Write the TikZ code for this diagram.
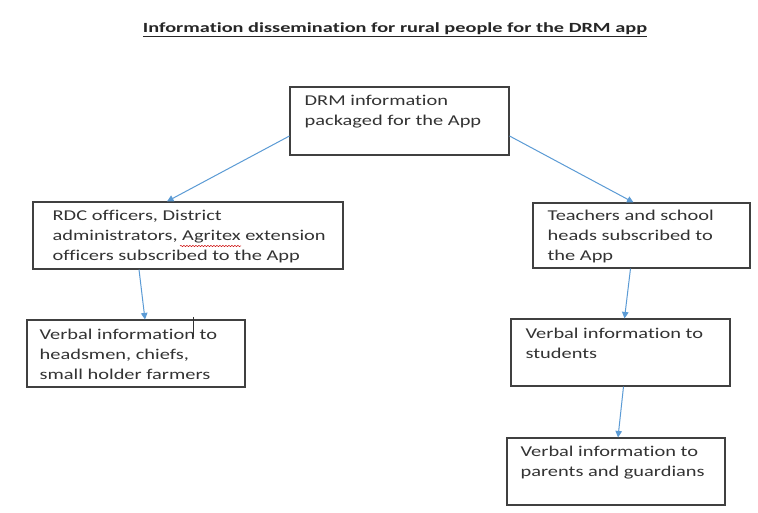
\documentclass[tikz,border=0pt]{standalone}
\usepackage{fontspec}
\setmainfont[RawFeature=-liga]{Carlito}
\newfontfamily\boxfont[FakeStretch=1.36,RawFeature=-liga]{Carlito}
\newfontfamily\titlefont[FakeStretch=1.45,RawFeature=-liga]{Carlito}
\usetikzlibrary{arrows.meta,decorations.pathmorphing}
\definecolor{arrowblue}{HTML}{5B9BD5}
\definecolor{boxgray}{HTML}{404040}
\definecolor{txtgray}{HTML}{333333}
\tikzset{
  box/.style={draw=boxgray, line width=1.1pt, rectangle, inner sep=0pt, fill=white},
  txt/.style={anchor=north west, inner sep=0pt, align=left, text=txtgray, font=\boxfont\fontsize{15}{20}\selectfont},
  conn/.style={draw=arrowblue, line width=1pt, -{Triangle[length=6.5pt,width=6.5pt]}},
}
\begin{document}
\begin{tikzpicture}[x=1pt,y=1pt]
\useasboundingbox (0,0) rectangle (758,512);
\fill[white] (0,0) rectangle (758,512);
% title
\node[inner sep=0pt, text=black!85, font=\titlefont\bfseries\fontsize{14}{17}\selectfont] (title) at (395,482) {\underline{Information dissemination for rural people for the DRM app}};
% boxes (y = 512 - pixel y)
\node[box, minimum width=219pt, minimum height=68pt] (drm) at (399.5,391) {};
\node[txt] (drmt) at ([shift={(15,-9)}]drm.north west) {DRM information\\packaged for the App};
\node[box, minimum width=310pt, minimum height=67pt] (rdc) at (188,276.5) {};
\node[txt] (rdct) at ([shift={(20,-9)}]rdc.north west) {RDC officers, District\\administrators, Agritex extension\\officers subscribed to the App};
\node[box, minimum width=217pt, minimum height=65pt] (teach) at (641.5,276.5) {};
\node[txt] (teacht) at ([shift={(15,-7.5)}]teach.north west) {Teachers and school\\heads subscribed to\\the App};
\node[box, minimum width=218pt, minimum height=67pt] (heads) at (136,158.5) {};
\node[txt] (headst) at ([shift={(13,-9)}]heads.north west) {Verbal information to\\headsmen, chiefs,\\small holder farmers};
\node[box, minimum width=219pt, minimum height=67pt] (stud) at (620.5,159.5) {};
\node[txt] (studt) at ([shift={(15,-9)}]stud.north west) {Verbal information to\\students};
\node[box, minimum width=218pt, minimum height=67pt] (par) at (616,40.5) {};
\node[txt] (part) at ([shift={(14,-8.5)}]par.north west) {Verbal information to\\parents and guardians};
% spell-check squiggle and text cursor
\draw[red!80!black, line width=0.5pt, decorate, decoration={snake, amplitude=0.6pt, segment length=3pt}] (180,266) -- (241,266);
\draw[black!80, line width=0.8pt] (193,195) -- (193,175);
% connectors
\draw[conn] ([yshift=-15pt]drm.west) -- ([xshift=-21pt]rdc.north);
\draw[conn] ([yshift=-15pt]drm.east) -- ([xshift=-8pt]teach.north);
\draw[conn] ([xshift=-49pt]rdc.south) -- ([xshift=9pt]heads.north);
\draw[conn] ([xshift=-11pt]teach.south) -- ([xshift=4pt]stud.north);
\draw[conn] ([xshift=3pt]stud.south) -- ([xshift=2pt]par.north);
\end{tikzpicture}
\end{document}
